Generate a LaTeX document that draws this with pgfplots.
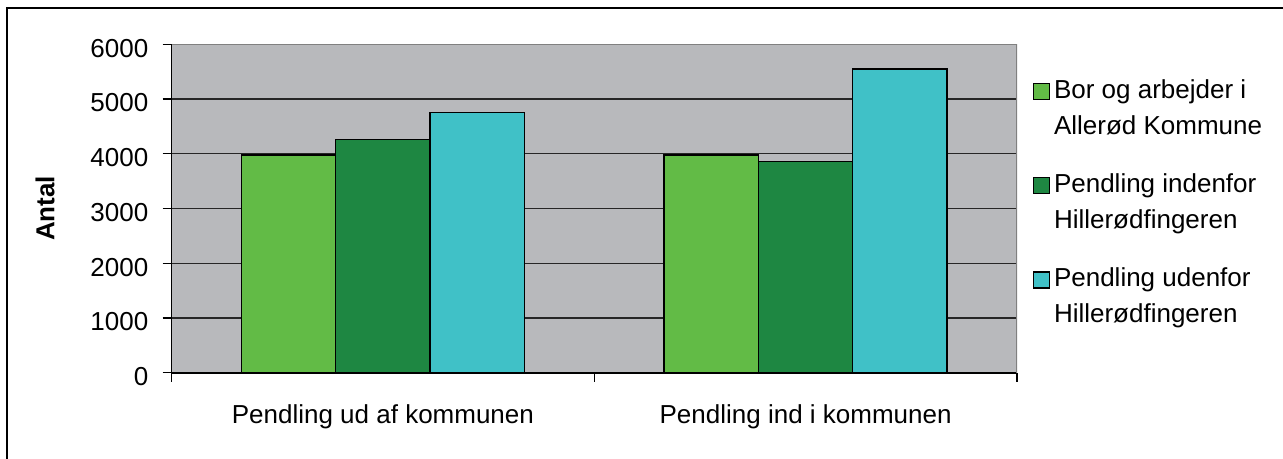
\documentclass[border=0pt]{standalone}
\usepackage{fontspec}
\setmainfont{Liberation Sans}
\usepackage{pgfplots}
\pgfplotsset{compat=1.18}
\definecolor{bggray}{HTML}{B8B9BC}
\definecolor{cA}{HTML}{62BB46}
\definecolor{cB}{HTML}{1E8742}
\definecolor{cC}{HTML}{40C1C7}
\definecolor{bordergray}{HTML}{808080}
\begin{document}
\begin{tikzpicture}[font=\fontsize{13}{18}\selectfont]
\useasboundingbox (0,0) rectangle (641.5pt,-229.5pt);
\draw[line width=1pt] (3.5pt,-229.5pt) -- (3.5pt,-4pt) -- (641.5pt,-4pt);
\begin{axis}[
  at={(85.75pt,-186.35pt)}, anchor=south west,
  scale only axis, width=422.75pt, height=164.2pt,
  xmin=-0.5, xmax=1.5, ymin=0, ymax=6000,
  ytick={0,1000,...,6000},
  xtick={0,1},
  xticklabels={Pendling ud af kommunen, Pendling ind i kommunen},
  minor xtick={-0.5,0.5,1.5},
  tick align=outside,
  major tick length=4.5pt, minor tick length=4.5pt,
  major x tick style={draw=none},
  minor x tick style={black, line width=0.6pt},
  y tick style={black, line width=0.6pt},
  ymajorgrids,
  major grid style={black!85, line width=0.7pt},
  axis background/.style={fill=bggray},
  axis x line*=bottom, axis y line*=left,
  axis line style={black, line width=0.8pt},
  /pgf/number format/assume math mode=true,
  /pgf/number format/1000 sep={},
  yticklabel style={xshift=-3.6pt, yshift=-2pt},
  xticklabel style={yshift=-8pt},
  ylabel={\bfseries Antal},
  every axis y label/.style={at={(rel axis cs:-0.1496,0.5)}, rotate=90, anchor=center},
  ybar, bar width=0.2231,
  legend style={draw=none, fill=none, at={(rel axis cs:1.018,0.925)}, anchor=north west,
    inner sep=0pt, row sep=29pt, cells={anchor=base west},
    /tikz/every even column/.append style={column sep=1pt}},
  legend image code/.code={\draw[#1] (0pt,-0.5pt) rectangle (8pt,7.5pt);},
]
\addplot[fill=cA, draw=black, line width=0.7pt, bar shift=-0.2231] coordinates {(0,3980) (1,3980)};
\addlegendentry{\begin{tabular}[t]{@{}l@{}}Bor og arbejder i\\Allerød Kommune\end{tabular}}
\addplot[fill=cB, draw=black, line width=0.7pt, bar shift=0] coordinates {(0,4260) (1,3860)};
\addlegendentry{\begin{tabular}[t]{@{}l@{}}Pendling indenfor\\Hillerødfingeren\end{tabular}}
\addplot[fill=cC, draw=black, line width=0.7pt, bar shift=0.2231] coordinates {(0,4750) (1,5550)};
\addlegendentry{\begin{tabular}[t]{@{}l@{}}Pendling udenfor\\Hillerødfingeren\end{tabular}}
\draw[bordergray, line width=0.8pt] (rel axis cs:0,1) -- (rel axis cs:1,1) -- (rel axis cs:1,0);
\end{axis}
\end{tikzpicture}
\end{document}
